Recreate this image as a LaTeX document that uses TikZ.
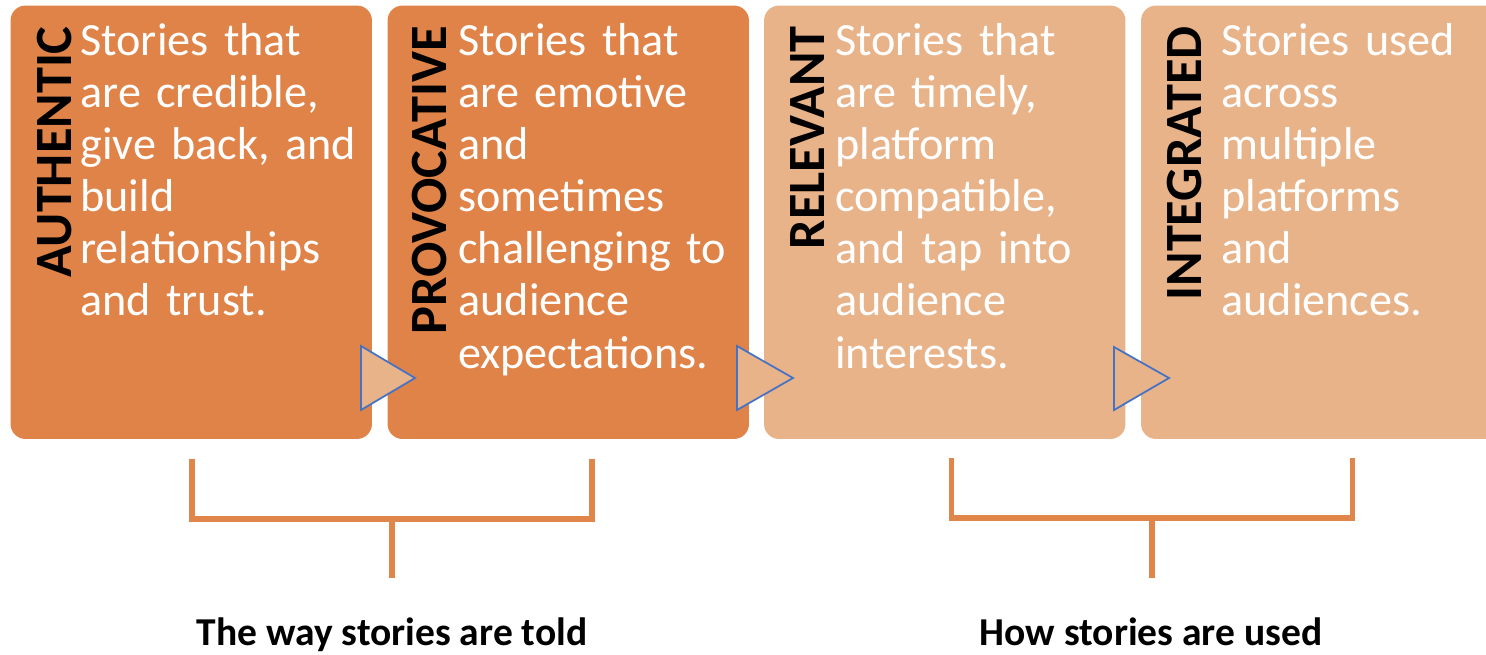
\documentclass[tikz,border=0pt]{standalone}
\usepackage{fontspec}
\setmainfont{Carlito}
\usepackage{xcolor}
\usetikzlibrary{positioning}
\definecolor{mydark}{RGB}{224,131,72}
\definecolor{mylight}{RGB}{233,179,138}
\definecolor{myline}{RGB}{224,134,74}
\definecolor{myblue}{RGB}{68,114,196}
\tikzset{
    card/.style={
        rectangle,
        fill=#1,
        rounded corners=0.3cm,
        minimum width=7.23cm,
        minimum height=8.67cm,
        inner sep=0pt
    },
    tag/.style={
        rotate=90,
        anchor=base east,
        inner sep=0pt,
        font=\fontsize{29.8}{32}\selectfont\bfseries
    },
    body/.style={
        anchor=base west,
        text width=6.2cm,
        align=left,
        inner sep=0pt,
        text=white,
        font=\fontsize{26.3}{29.7}\selectfont
    },
    caption/.style={
        anchor=base,
        inner sep=0pt,
        font=\fontsize{22.5}{26}\selectfont\bfseries
    },
    brace/.style={line width=3.2pt,myline},
    nxt/.style={draw=myblue,fill=mylight,line width=1pt}
}

\begin{document}
\begin{tikzpicture}[x=0.02cm,y=-0.02cm]
\useasboundingbox (0,0) rectangle (1486,654);

% the four cards
\node[card=mydark]  (authentic)   at (191.25,222.25) {};
\node[card=mydark]  (provocative) at (568.25,222.25) {};
\node[card=mylight] (relevant)    at (944.75,222.25) {};
\node[card=mylight] (integrated)  at (1321.75,222.25) {};

% small arrows between cards
\draw[nxt] (361,346) -- (415,378) -- (361,410) -- cycle;
\draw[nxt] (737,346) -- (793,378) -- (737,410) -- cycle;
\draw[nxt] (1114,347) -- (1169,378) -- (1114,410) -- cycle;

\node[tag] (authtag) at (71,26)   {AUTHENTIC};
\node[tag] (provtag) at (446,26)  {PROVOCATIVE};
\node[tag] (reltag)  at (824,26)  {RELEVANT};
\node[tag] (inttag)  at (1201,26) {INTEGRATED};

\node[body] (authtext) at (80,55)   {Stories that\\are credible,\\give back, and\\build\\relationships\\and trust.};
\node[body] (provtext) at (458,55)  {Stories that\\are emotive\\and\\sometimes\\challenging to\\audience\\expectations.};
\node[body] (reltext)  at (835,55)  {Stories that\\are timely,\\platform\\compatible,\\and tap into\\audience\\interests.};
\node[body] (inttext)  at (1221,55) {Stories used\\across\\multiple\\platforms\\and\\audiences.};

% brackets and their captions
\node[caption] (told) at (392,645)  {The way stories are told};
\node[caption] (used) at (1151,645) {How stories are used};

\coordinate (toldL) at (192,459);
\coordinate (toldR) at (592,459);
\coordinate (toldM) at (392,519);
\coordinate (toldE) at (392,578);
\coordinate (usedL) at (951.5,458);
\coordinate (usedR) at (1352.5,458);
\coordinate (usedM) at (1152,518);
\coordinate (usedE) at (1152,578);

\draw[brace] (toldL) |- (toldM) -| (toldR);
\draw[brace] (toldM) -- (toldE);
\draw[brace] (usedL) |- (usedM) -| (usedR);
\draw[brace] (usedM) -- (usedE);
\end{tikzpicture}
\end{document}
